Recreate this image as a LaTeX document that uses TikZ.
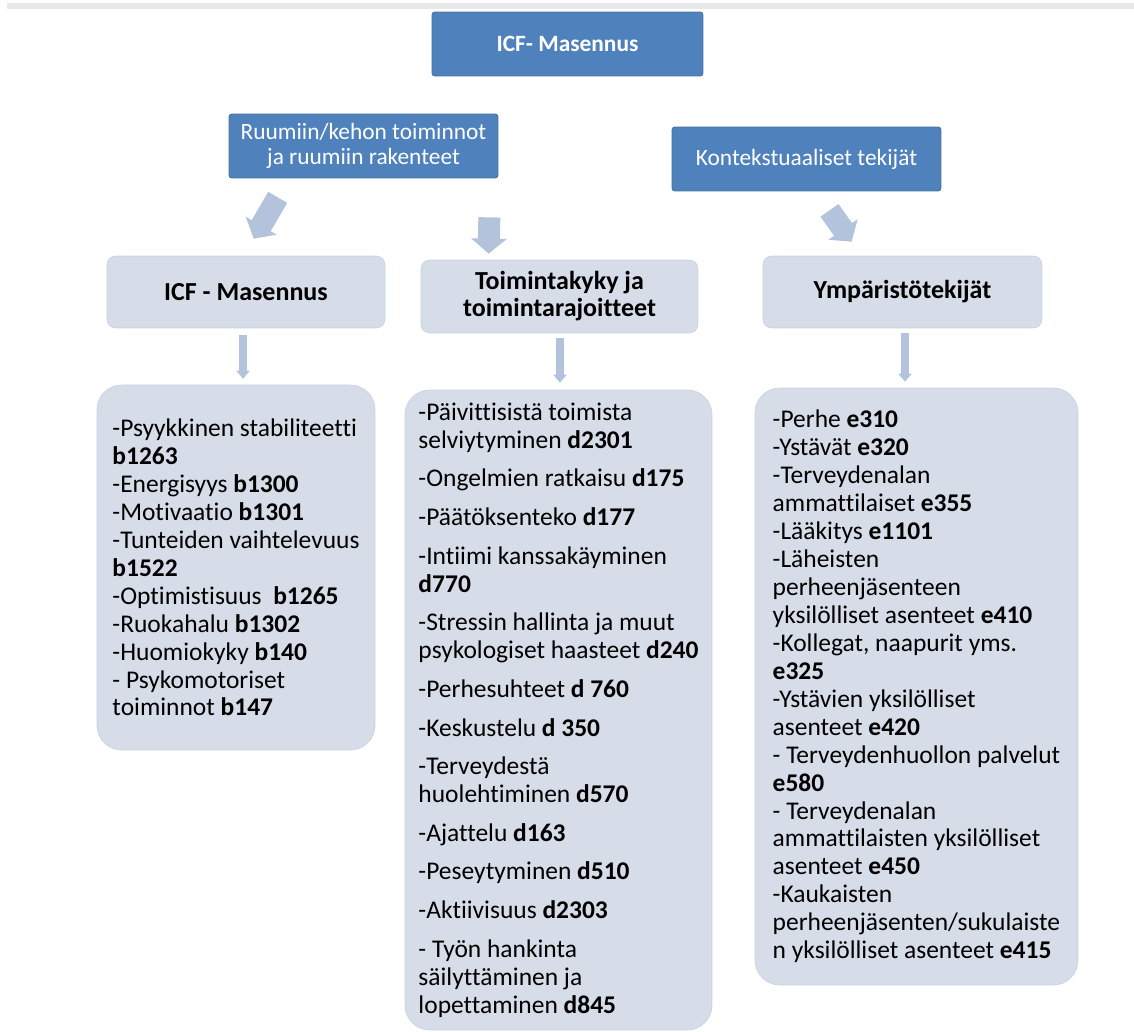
\documentclass[tikz,border=0pt]{standalone}
\usepackage{fontspec}
\setmainfont{Carlito}[Ligatures={NoCommon}]
\usepackage{tikz}
\usetikzlibrary{arrows.meta,positioning,calc}

\definecolor{icfblue}{HTML}{4F81BD}
\definecolor{icfblueline}{HTML}{41719C}
\definecolor{icfpale}{HTML}{D6DCE8}
\definecolor{icfpaleline}{HTML}{CAD3E2}
\definecolor{icfarrow}{HTML}{B3C3DC}
\definecolor{icfrule}{HTML}{E8E8E8}

\begin{document}
\begin{tikzpicture}[
    x=0.02cm, y=-0.02cm,
    topbox/.style={rectangle, draw=icfblueline, fill=icfblue, rounded corners=1.5pt, align=center, text=white, minimum height=1.28cm, minimum width=5.38cm, font=\fontsize{13.3}{14.2}\selectfont},
    headbox/.style={rectangle, draw=icfpaleline, fill=icfpale, rounded corners=5pt, align=center, minimum height=1.44cm, minimum width=5.56cm, font=\fontsize{14.8}{15.4}\selectfont\bfseries},
    listbox/.style={rectangle, draw=icfpaleline, fill=icfpale, rounded corners=14pt, align=left, font=\fontsize{14.5}{15.9}\selectfont},
    bigarrow/.style={-{Triangle[length=0.3cm, width=0.7cm]}, line width=0.44cm, draw=icfarrow},
    thinarrow/.style={-{Triangle[length=0.16cm, width=0.26cm]}, line width=0.15cm, draw=icfarrow}
]
    \useasboundingbox (0,0) rectangle (1134,1032);
    \fill [icfrule] (7,3) rectangle (1134,9);

    % blue boxes
    \node [topbox, minimum width=5.42cm, font=\fontsize{13.3}{14.2}\selectfont\bfseries] (top) at (567.5,44) {ICF- Masennus};
    \node [topbox] (ruumiin) at (363.5,146) {Ruumiin/kehon toiminnot\\ja ruumiin rakenteet};
    \node [topbox] (kont) at (806.5,159) {Kontekstuaaliset tekijät};

    % headings
    \node [headbox] (icf2) at (246,292) {ICF - Masennus};
    \node [headbox, minimum width=5.54cm, minimum height=1.46cm] (toim) at (559.5,296.5) {Toimintakyky ja\\toimintarajoitteet};
    \node [headbox, minimum width=5.58cm] (ymp) at (902.5,292) {Ympäristötekijät};

    % lists
    \node [listbox, minimum width=5.56cm, minimum height=7.3cm] (lbox) at (236,567.5) {%
        -Psyykkinen stabiliteetti\\
        \textbf{b1263}\\
        -Energisyys \textbf{b1300}\\
        -Motivaatio \textbf{b1301}\\
        -Tunteiden vaihtelevuus\\
        \textbf{b1522}\\
        -Optimistisuus~ \textbf{b1265}\\
        -Ruokahalu \textbf{b1302}\\
        -Huomiokyky \textbf{b140}\\
        - Psykomotoriset\\
        toiminnot \textbf{b147}};
    \node [listbox, minimum width=6.14cm, minimum height=12.8cm] (mbox) at (558.5,710) {%
        -Päivittisistä toimista\\
        selviytyminen \textbf{d2301}\\[6.1pt]
        -Ongelmien ratkaisu \textbf{d175}\\[6.1pt]
        -Päätöksenteko \textbf{d177}\\[6.1pt]
        -Intiimi kanssakäyminen\\
        \textbf{d770}\\[6.1pt]
        -Stressin hallinta ja muut\\
        psykologiset haasteet \textbf{d240}\\[6.1pt]
        -Perhesuhteet \textbf{d 760}\\[6.1pt]
        -Keskustelu \textbf{d 350}\\[6.1pt]
        -Terveydestä\\
        huolehtiminen \textbf{d570}\\[6.1pt]
        -Ajattelu \textbf{d163}\\[6.1pt]
        -Peseytyminen \textbf{d510}\\[6.1pt]
        -Aktiivisuus \textbf{d2303}\\[6.1pt]
        - Työn hankinta\\
        säilyttäminen ja\\
        lopettaminen \textbf{d845}};
    \node [listbox, minimum width=6.46cm, minimum height=11.94cm] (rbox) at (916.5,686.5) {%
        -Perhe \textbf{e310}\\
        -Ystävät \textbf{e320}\\
        -Terveydenalan\\
        ammattilaiset \textbf{e355}\\
        -Lääkitys \textbf{e1101}\\
        -Läheisten\\
        perheenjäsenteen\\
        yksilölliset asenteet \textbf{e410}\\
        -Kollegat, naapurit yms.\\
        \textbf{e325}\\
        -Ystävien yksilölliset\\
        asenteet \textbf{e420}\\
        - Terveydenhuollon palvelut\\
        \textbf{e580}\\
        - Terveydenalan\\
        ammattilaisten yksilölliset\\
        asenteet \textbf{e450}\\
        -Kaukaisten\\
        perheenjäsenten/sukulaiste\\
        n yksilölliset asenteet \textbf{e415}};

    % arrows
    \draw [bigarrow] ($(ruumiin.south west)+(49,19)$) -- ($(icf2.north west)+(147,-17)$);
    \draw [bigarrow] ($(ruumiin.south east)+(-9,39)$) -- ($(toim.north west)+(68,-6)$);
    \draw [bigarrow] ($(kont.south)+(23,19)$) -- ($(ymp.north west)+(89,-14)$);

    \draw [thinarrow] ($(icf2.south)+(-3,7)$) -- ($(icf2.south |- lbox.north)+(-3,-6)$);
    \draw [thinarrow] ($(toim.south)+(0.5,5)$) -- ($(toim.south |- mbox.north)+(0.5,-7)$);
    \draw [thinarrow] ($(ymp.south)+(2.5,5)$) -- ($(ymp.south |- rbox.north)+(2.5,-6)$);
\end{tikzpicture}
\end{document}
